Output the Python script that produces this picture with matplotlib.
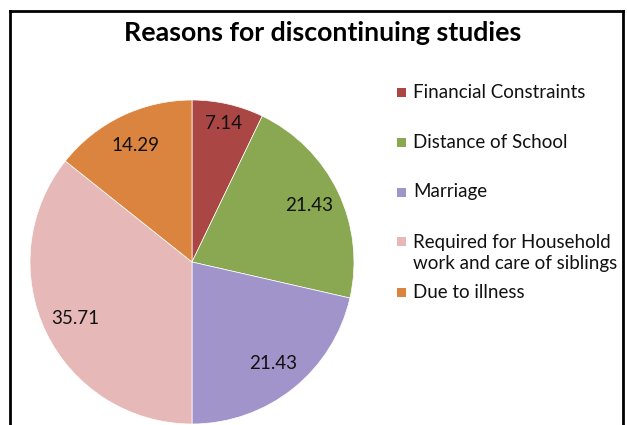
import matplotlib.pyplot as plt
from matplotlib.patches import Rectangle
from matplotlib.lines import Line2D

# data
categories = ["Financial Constraints", "Distance of School", "Marriage",
              "Required for Household\nwork and care of siblings", "Due to illness"]
values = [7.14, 21.43, 21.43, 35.71, 14.29]
colors = ["#AA4644", "#8AA751", "#A194CB", "#E6B8B7", "#DB843F"]

plt.rcParams['font.family'] = ['Lato', 'DejaVu Sans']

W, H = 627, 425
fig = plt.figure(figsize=(W / 100, H / 100), dpi=100)

# pie axes: centre (192, 262) px, radius 162 px
cx, cy, r = 192, 262, 162
ax = fig.add_axes([(cx - r) / W, (H - cy - r) / H, 2 * r / W, 2 * r / H])
wedges, texts, autotexts = ax.pie(values, colors=colors, startangle=90, counterclock=False,
                                  radius=1, autopct=lambda p: f"{p:.2f}", pctdistance=0.8,
                                  wedgeprops=dict(edgecolor="white", linewidth=0.5),
                                  textprops=dict(fontsize=13.5, color="#111111"))
# first label sits a bit further out in the original
x0, y0 = autotexts[0].get_position()
autotexts[0].set_position((x0 * 1.1, y0 * 1.1))
ax.set_xlim(-1, 1)
ax.set_ylim(-1, 1)
ax.set_aspect("equal")
ax.axis("off")

fig.text(323 / W, 1 - 33 / H, "Reasons for discontinuing studies", ha="center", va="center",
         fontsize=19.3, fontweight="bold", color="black")

# legend drawn by hand (Excel-style spacing)
leg_y = [92, 142, 192, 253, 292]
for lab, col, yy in zip(categories, colors, leg_y):
    sq_y = yy if "\n" not in lab else yy - 11
    fig.add_artist(Rectangle(((397) / W, 1 - (sq_y + 4.5) / H), 9 / W, 9 / H,
                             transform=fig.transFigure, facecolor=col, edgecolor="none"))
    fig.text(413 / W, 1 - yy / H, lab, ha="left", va="center", fontsize=13.5,
             color="#111111", linespacing=1.3)

# chart frame
lw = 2
fig.add_artist(Line2D([10 / W, 10 / W], [-0.05, 1 - 11 / H], transform=fig.transFigure,
                      color="black", linewidth=lw))
fig.add_artist(Line2D([623 / W, 623 / W], [-0.05, 1 - 11 / H], transform=fig.transFigure,
                      color="black", linewidth=lw))
fig.add_artist(Line2D([10 / W, 623 / W], [1 - 11 / H, 1 - 11 / H], transform=fig.transFigure,
                      color="black", linewidth=lw, solid_capstyle="projecting"))

fig.savefig("out.png", dpi=100, facecolor="white")
